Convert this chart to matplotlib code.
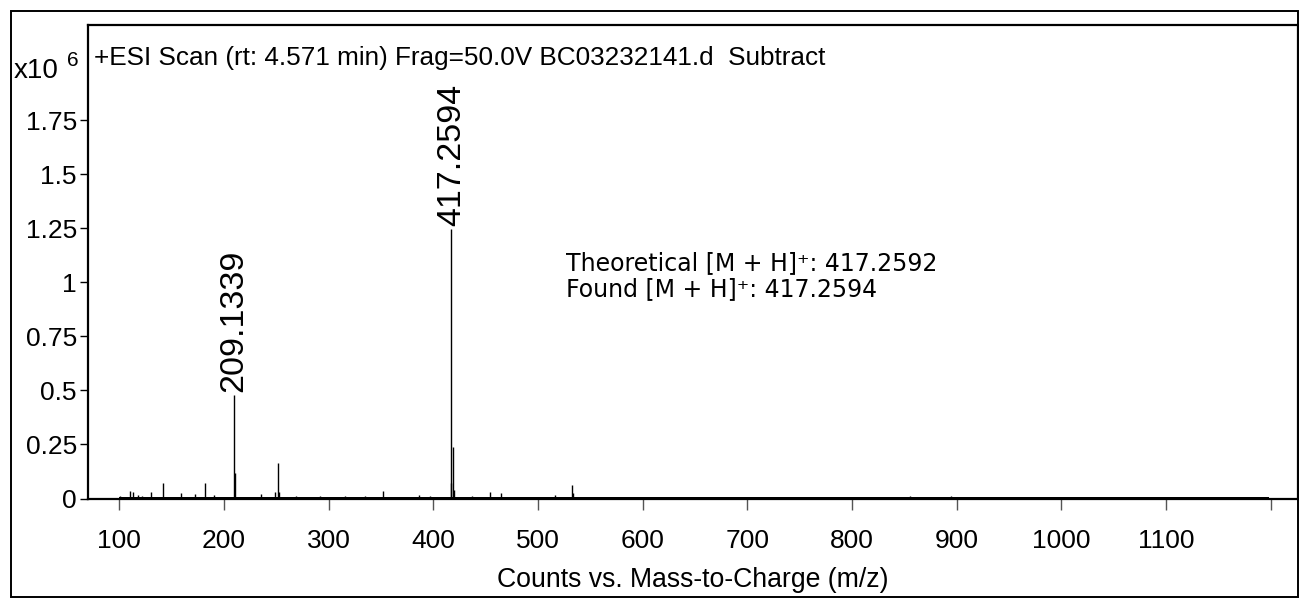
import matplotlib
matplotlib.use("Agg")
from matplotlib import pyplot as plt
from matplotlib.patches import Rectangle
from matplotlib.ticker import FixedLocator, FuncFormatter

# stick spectrum, intensities in units of 1e6 counts
peak_mz = [100.2, 109.8, 113.0, 117.8, 122.0, 129.9, 141.6, 158.5, 172.5, 182.0,
           190.0, 209.13, 210.14, 235.0, 248.3, 251.2, 252.2, 269.0, 291.6, 315.5,
           334.6, 351.5, 386.5, 396.7, 416.8, 417.26, 418.26, 419.3, 436.5, 454.0,
           464.5, 516.0, 532.0, 533.6, 855.0, 894.9, 1195.8]
peak_int = [0.012, 0.035, 0.030, 0.015, 0.012, 0.030, 0.073, 0.025, 0.020, 0.073,
            0.015, 0.480, 0.118, 0.020, 0.030, 0.165, 0.030, 0.012, 0.010, 0.010,
            0.010, 0.036, 0.015, 0.010, 0.073, 1.248, 0.240, 0.040, 0.010, 0.030,
            0.025, 0.015, 0.062, 0.025, 0.010, 0.012, 0.008]

# baseline noise band
noise_start, noise_end, noise_level = 100.0, 1198.0, 0.007

labelled_mz = [209.1339, 417.2594]
labelled_int = [0.480, 1.248]

title = "+ESI Scan (rt: 4.571 min) Frag=50.0V BC03232141.d  Subtract"
xlabel = "Counts vs. Mass-to-Charge (m/z)"
ytick_vals = [0, 0.25, 0.5, 0.75, 1, 1.25, 1.5, 1.75]
xtick_vals = [100, 200, 300, 400, 500, 600, 700, 800, 900, 1000, 1100, 1200]
info_lines = ["Theoretical [M + H]\u207a: 417.2592", "Found [M + H]\u207a: 417.2594"]

plt.rcParams['font.family'] = ['Liberation Sans', 'DejaVu Sans']

W, H = 1299, 598
fig = plt.figure(figsize=(W / 100, H / 100), dpi=100)
ax = fig.add_axes([88 / W, 1 - 498.5 / H, (1298 - 88) / W, (498.5 - 25) / H])

ax.fill_between([noise_start, noise_end], 0, noise_level, color='black', lw=0)
ax.vlines(peak_mz, 0, peak_int, color='black', lw=1.0)

for mz, inten in zip(labelled_mz, labelled_int):
    ax.annotate(f"{mz:.4f}", (mz, inten), xytext=(0, 2), textcoords='offset points',
                rotation=90, ha='center', va='bottom', fontsize=24.5)

ax.set_xlim(70, 1226)
ax.set_ylim(0, 2.19)

ax.yaxis.set_major_locator(FixedLocator(ytick_vals))
ax.yaxis.set_major_formatter(FuncFormatter(lambda v, p: f"{v:g}"))
ax.xaxis.set_major_locator(FixedLocator(xtick_vals))
ax.xaxis.set_major_formatter(FuncFormatter(lambda v, p: "" if v >= 1200 else f"{v:g}"))
ax.tick_params(axis='y', direction='out', length=6, width=1, pad=2, labelsize=19)
ax.tick_params(axis='x', direction='out', length=8, width=1, color='#555555',
               pad=14, labelsize=19)
for s in ax.spines.values():
    s.set_linewidth(1.6)

ax.text(0.005, 0.955, title, transform=ax.transAxes, ha='left', va='top', fontsize=18.8)
ax.set_xlabel(xlabel, fontsize=19.2, labelpad=10)

fig.text(14 / W, 1 - 71 / H, "x10", ha='left', va='center', fontsize=20)
fig.text(67 / W, 1 - 61 / H, "6", ha='left', va='center', fontsize=15)

for i, line in enumerate(info_lines):
    fig.text(566 / W, 1 - (263 + 26 * i) / H, line, ha='left', va='center',
             fontsize=17, family='DejaVu Sans')

# outer frame
fig.patches.append(Rectangle((11 / W, 1 - 597 / H), (1298 - 11) / W, (597 - 11) / H,
                             transform=fig.transFigure, fill=False, lw=1.4,
                             edgecolor='black'))

fig.savefig("out.png", dpi=100)
